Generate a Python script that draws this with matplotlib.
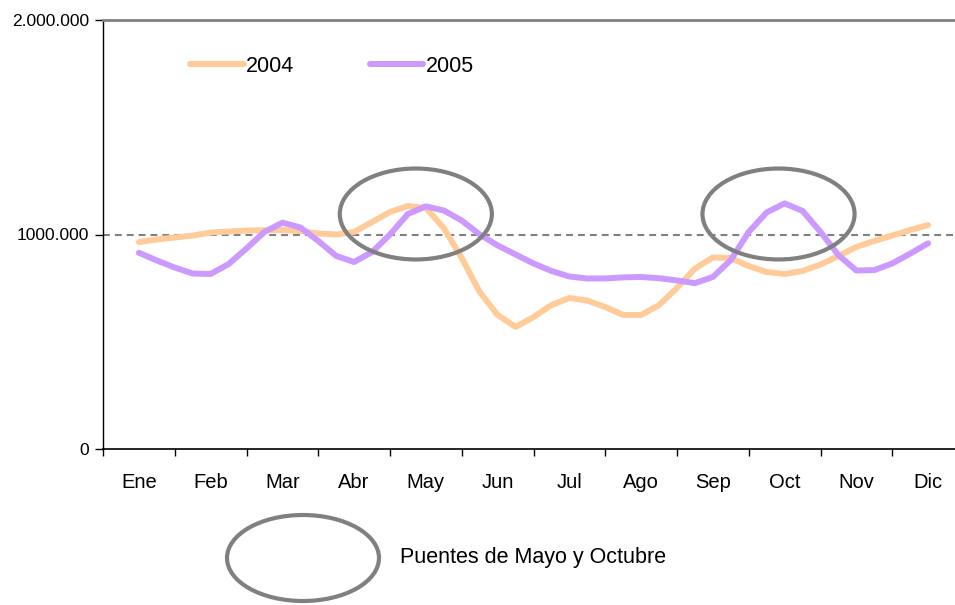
import numpy as np
import matplotlib.pyplot as plt
from matplotlib.patches import Ellipse
from matplotlib.lines import Line2D

plt.rcParams['font.family'] = ['Liberation Sans', 'DejaVu Sans']

months = ['Ene', 'Feb', 'Mar', 'Abr', 'May', 'Jun', 'Jul', 'Ago', 'Sep', 'Oct', 'Nov', 'Dic']

# weekly values (thousands)
v2004 = [965, 977, 986, 995, 1009, 1014, 1018, 1020, 1021, 1016, 1005, 1000,
         1012, 1058, 1105, 1133, 1124, 1030, 890, 732, 625, 569, 615, 671,
         704, 692, 662, 625, 625, 671, 751, 841, 893, 890, 853, 825,
         816, 830, 860, 900, 942, 970, 995, 1021, 1044]
v2005 = [915, 879, 846, 818, 816, 862, 935, 1012, 1055, 1033, 970, 900,
         872, 918, 1000, 1096, 1131, 1112, 1065, 1000, 949, 907, 865, 830,
         804, 795, 795, 800, 802, 796, 786, 773, 802, 881, 1012, 1103,
         1145, 1110, 1012, 904, 832, 834, 865, 911, 959]

yticks = [0, 1000000, 2000000]
ylabels = ['0', '1000.000', '2.000.000']

c2004 = '#FFCC99'
c2005 = '#CC99FF'
gray = '#808080'

fig = plt.figure(figsize=(9.55, 6.05), dpi=100)
ax = fig.add_axes([103/955, 1-449/605, 861/955, 429/605])

x04 = np.linspace(0, len(months)-1, len(v2004))
x05 = np.linspace(0, len(months)-1, len(v2005))
ax.plot(x04, np.array(v2004)*1000, color=c2004, lw=4.3, solid_joinstyle='round', solid_capstyle='round', zorder=3)
ax.plot(x05, np.array(v2005)*1000, color=c2005, lw=4.3, solid_joinstyle='round', solid_capstyle='round', zorder=4)

ax.axhline(1000000, color=gray, lw=1.5, dashes=(3.3, 2.4), zorder=2)

# highlight ellipses (May and October bridges)
for xc in [3.86, 8.915]:
    ax.add_patch(Ellipse((xc, 1095600), 2.12, 424000, fill=False, edgecolor=gray, lw=3, zorder=5))

ax.set_xlim(-0.5, len(months)-0.5)
ax.set_ylim(0, 2000000)
ax.set_xticks(np.arange(len(months)+1)-0.5)
ax.set_xticklabels([])
ax.set_xticks(np.arange(len(months)), minor=True)
ax.set_xticklabels(months, minor=True, fontsize=14.5)
ax.tick_params(axis='x', which='major', direction='out', length=5, width=1, color='black')
ax.tick_params(axis='x', which='minor', length=0, pad=17.5)
ax.set_yticks(yticks)
ax.set_yticklabels(ylabels, fontsize=12.5)
ax.tick_params(axis='y', direction='out', length=6, width=1, pad=4)

ax.spines['right'].set_visible(False)
ax.spines['top'].set_color(gray)
ax.spines['top'].set_linewidth(2)
ax.spines['left'].set_linewidth(1)
ax.spines['bottom'].set_linewidth(1.2)

handles = [Line2D([], [], color=c2004, lw=4.3, solid_capstyle='round'),
           Line2D([], [], color=c2005, lw=4.3, solid_capstyle='round')]
fig.legend(handles, ['2004', '2005'], loc='center left', bbox_to_anchor=(190/955, 1-66/605),
           ncol=2, frameon=False, fontsize=15.5, handlelength=2.5, handletextpad=0.1,
           columnspacing=3.5, borderpad=0, borderaxespad=0)

fig.add_artist(Ellipse((303/955, 1-558/605), 152/955, 86/605, transform=fig.transFigure,
                       fill=False, edgecolor=gray, lw=3))
fig.text(400/955, 1-558/605, 'Puentes de Mayo y Octubre', fontsize=15.5, va='center', ha='left')

fig.savefig('out.png', dpi=100)
